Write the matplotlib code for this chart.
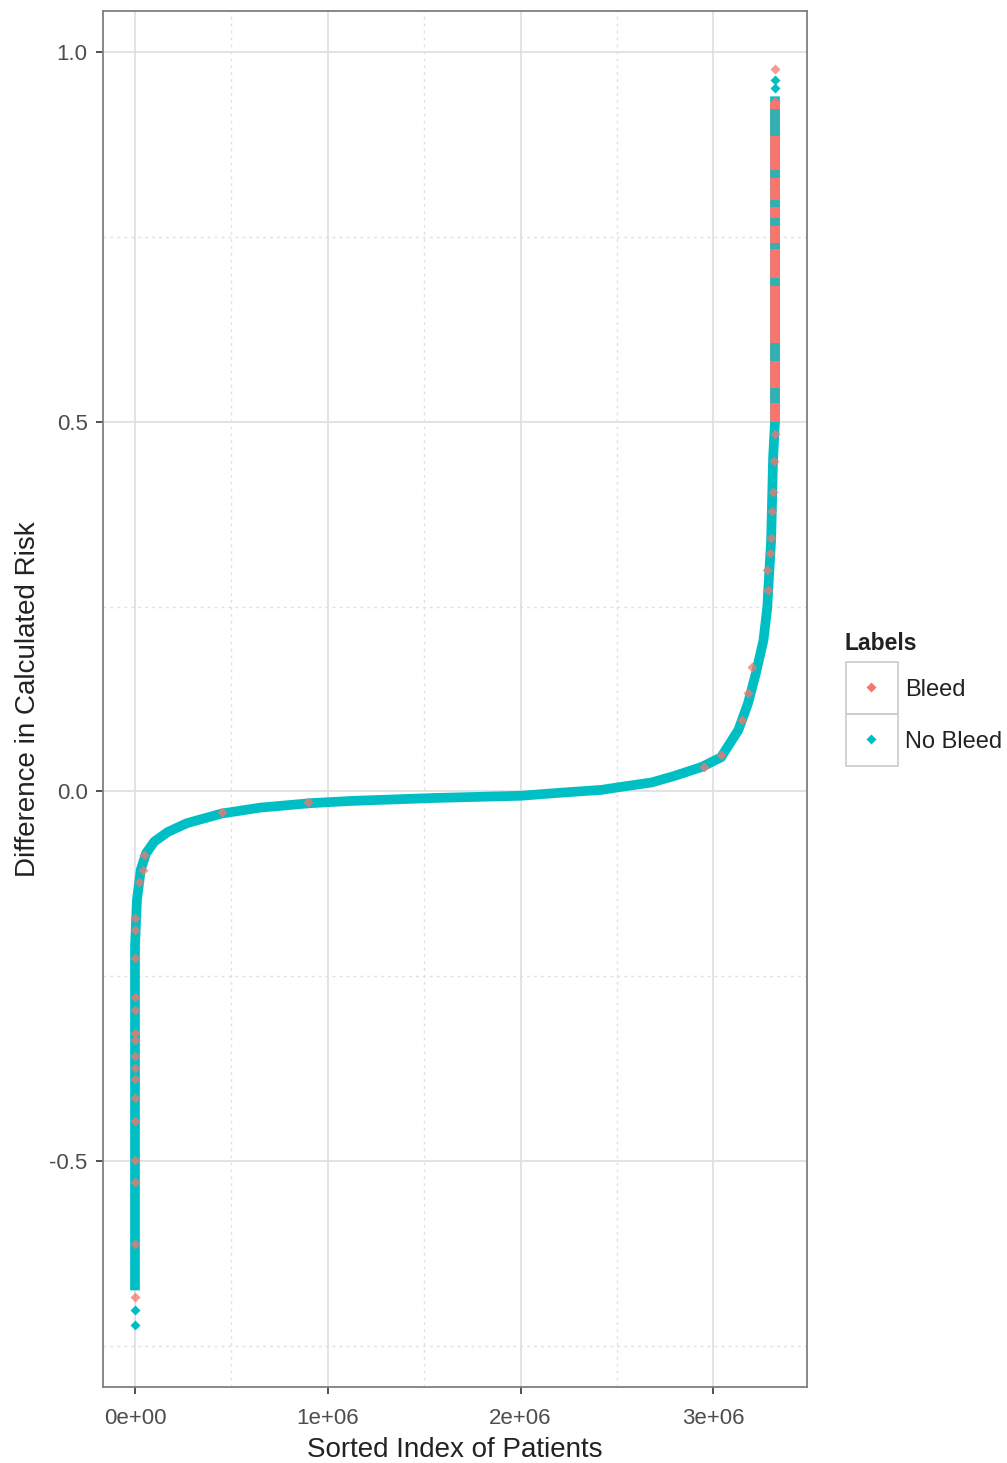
import numpy as np
import matplotlib.pyplot as plt
from matplotlib.patches import Rectangle

color_bleed = '#F8766D'
color_nobleed = '#00BFC4'
color_grid = '#e0e0e0'
color_text = '#4d4d4d'

# sorted difference in risk (index in millions of patients)
curve_idx = [0.0, 0.0, 0.0, 0.0, 0.01, 0.03, 0.057, 0.10, 0.17, 0.27, 0.45, 0.65,
             0.91, 1.12, 1.55, 2.0, 2.2, 2.42, 2.52, 2.68, 2.8, 2.94, 3.04, 3.13,
             3.18, 3.22, 3.26, 3.28, 3.29, 3.30, 3.31, 3.32, 3.32]
curve_diff = [-0.675, -0.45, -0.30, -0.21, -0.147, -0.106, -0.084, -0.068, -0.055,
              -0.043, -0.030, -0.022, -0.016, -0.013, -0.009, -0.006, -0.002, 0.002,
              0.006, 0.012, 0.021, 0.033, 0.046, 0.083, 0.119, 0.159, 0.204, 0.249,
              0.295, 0.34, 0.45, 0.50, 0.94]

# top tail: mostly bleeding patients, with runs of non-bleeding ones inside
bleed_run_idx = [3.32, 3.32]
bleed_run_diff = [0.50, 0.934]
nobleed_run_lo = [0.886, 0.83, 0.79, 0.765, 0.733, 0.684, 0.582, 0.525]
nobleed_run_hi = [0.923, 0.84, 0.80, 0.775, 0.742, 0.695, 0.607, 0.545]

# single bleed points scattered along the curve
bleed_idx = [3.32, 3.32, 3.32, 3.315, 3.31, 3.305, 3.30, 3.295, 3.285, 3.28,
             3.20, 3.18, 3.15, 3.04, 2.95, 0.9, 0.45, 0.047, 0.04, 0.02,
             0.0, 0.0, 0.0, 0.0, 0.0, 0.0, 0.0, 0.0, 0.0, 0.0, 0.0, 0.0, 0.0,
             0.0, 0.0, 0.0]
bleed_diff = [0.977, 0.934, 0.483, 0.447, 0.405, 0.379, 0.343, 0.322, 0.272, 0.30,
              0.168, 0.133, 0.096, 0.049, 0.033, -0.014, -0.028, -0.086, -0.106, -0.123,
              -0.171, -0.188, -0.226, -0.278, -0.296, -0.327, -0.337, -0.358, -0.374,
              -0.389, -0.415, -0.446, -0.498, -0.528, -0.612, -0.684]

# single non-bleed points at the extremes
nobleed_idx = [0.0, 0.0, 3.32, 3.32]
nobleed_diff = [-0.722, -0.702, 0.962, 0.952]

xticks = [0, 1e6, 2e6, 3e6]
xtick_labels = ['0e+00', '1e+06', '2e+06', '3e+06']
yticks = [-0.5, 0.0, 0.5, 1.0]
ytick_labels = ['-0.5', '0.0', '0.5', '1.0']
legend_labels = ['Bleed', 'No Bleed']

plt.rcParams['font.family'] = ['Liberation Sans', 'DejaVu Sans']

fig = plt.figure(figsize=(10.07, 14.63), dpi=100)
ax = fig.add_axes([103 / 1007, 76 / 1463, 704 / 1007, 1376 / 1463])

band = 7
x_curve = np.array(curve_idx) * 1e6
ax.plot(x_curve, curve_diff, color=color_nobleed, lw=band, solid_capstyle='butt', zorder=3)
ax.plot(np.array(bleed_run_idx) * 1e6, bleed_run_diff, color=color_bleed, lw=band,
        solid_capstyle='butt', zorder=4)
for lo, hi in zip(nobleed_run_lo, nobleed_run_hi):
    ax.plot([3.32e6, 3.32e6], [lo, hi], color=color_nobleed, lw=band,
            solid_capstyle='butt', alpha=0.8, zorder=5)
ax.plot(np.array(nobleed_idx) * 1e6, nobleed_diff, 'D', color=color_nobleed,
        ms=5.5, mec='none', zorder=5)
ax.plot(np.array(bleed_idx) * 1e6, bleed_diff, 'D', color=color_bleed,
        ms=5.5, mec='none', alpha=0.75, zorder=6)

ax.set_xlim(-0.166e6, 3.486e6)
ax.set_ylim(-0.8057, 1.0555)

# grid like theme_bw
for v in xticks:
    ax.axvline(v, color=color_grid, lw=1.3, zorder=1)
for v in yticks:
    ax.axhline(v, color=color_grid, lw=1.3, zorder=1)
for v in [0.5e6, 1.5e6, 2.5e6]:
    ax.axvline(v, color=color_grid, lw=1.0, ls=(0, (2, 3)), zorder=1)
for v in [-0.75, -0.25, 0.25, 0.75]:
    ax.axhline(v, color=color_grid, lw=1.0, ls=(0, (2, 3)), zorder=1)

ax.set_xticks(xticks)
ax.set_xticklabels(xtick_labels)
ax.set_yticks(yticks)
ax.set_yticklabels(ytick_labels)
ax.tick_params(length=5, width=1.2, color='#333333', labelsize=16,
               labelcolor=color_text)
ax.tick_params(axis='x', pad=10)
ax.tick_params(axis='y', pad=6)
for s in ax.spines.values():
    s.set_color('#7f7f7f')
    s.set_linewidth(1.3)

ax.set_xlabel('Sorted Index of Patients', fontsize=20, color='#222222', labelpad=6)
ax.set_ylabel('Difference in Calculated Risk', fontsize=20, color='#222222', labelpad=6)

# legend drawn by hand, ggplot style
leg = fig.add_axes([0, 0, 1, 1], facecolor='none')
leg.set_xlim(0, 1007)
leg.set_ylim(1463, 0)
leg.axis('off')
leg.text(845, 643, 'Labels', fontsize=16.5, fontweight='bold', color='#222222', va='center')
for i, (lab, col) in enumerate(zip(legend_labels, [color_bleed, color_nobleed])):
    y0 = 662 + i * 52
    leg.add_patch(Rectangle((846, y0), 52, 52, fill=False, ec='#cccccc', lw=1.2))
    leg.plot(871, y0 + 25, 'D', color=col, ms=5, mec='none')
    leg.text(905, y0 + 28, lab, fontsize=17, color='#222222', va='center')

fig.savefig('out.png', dpi=100)
